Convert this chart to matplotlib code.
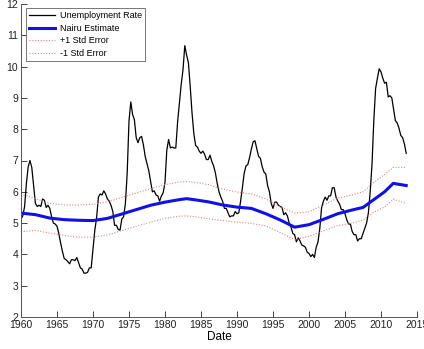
import matplotlib
matplotlib.use("Agg")
import matplotlib.pyplot as plt
import numpy as np

plt.rcParams['font.family'] = ['Liberation Sans', 'DejaVu Sans']

# Quarterly unemployment rate, 1960Q1 .. 2013Q3
unemp = [
    5.13, 5.23, 5.53, 6.27,
    6.80, 7.00, 6.77, 6.20,
    5.63, 5.53, 5.57, 5.53,
    5.77, 5.73, 5.50, 5.57,
    5.47, 5.20, 5.00, 4.97,
    4.90, 4.67, 4.37, 4.10,
    3.87, 3.83, 3.77, 3.70,
    3.83, 3.83, 3.80, 3.90,
    3.73, 3.57, 3.53, 3.40,
    3.40, 3.43, 3.57, 3.57,
    4.17, 4.77, 5.17, 5.83,
    5.93, 5.90, 6.03, 5.93,
    5.77, 5.70, 5.57, 5.37,
    4.93, 4.93, 4.80, 4.77,
    5.13, 5.20, 5.63, 6.60,
    8.27, 8.87, 8.47, 8.30,
    7.73, 7.57, 7.73, 7.77,
    7.50, 7.13, 6.90, 6.67,
    6.33, 6.00, 6.03, 5.90,
    5.87, 5.70, 5.87, 5.97,
    6.30, 7.33, 7.67, 7.40,
    7.43, 7.40, 7.40, 8.23,
    8.83, 9.43, 9.90, 10.67,
    10.37, 10.13, 9.37, 8.53,
    7.87, 7.48, 7.43, 7.30,
    7.23, 7.30, 7.20, 7.03,
    7.03, 7.17, 6.97, 6.83,
    6.60, 6.27, 6.00, 5.83,
    5.70, 5.47, 5.47, 5.33,
    5.20, 5.23, 5.23, 5.37,
    5.30, 5.33, 5.70, 6.13,
    6.60, 6.83, 6.87, 7.10,
    7.37, 7.60, 7.63, 7.37,
    7.13, 7.07, 6.80, 6.63,
    6.57, 6.20, 6.00, 5.63,
    5.47, 5.67, 5.67, 5.57,
    5.53, 5.50, 5.27, 5.33,
    5.23, 5.00, 4.87, 4.67,
    4.63, 4.40, 4.53, 4.43,
    4.30, 4.27, 4.23, 4.07,
    4.03, 3.93, 4.00, 3.90,
    4.23, 4.40, 4.83, 5.50,
    5.70, 5.83, 5.73, 5.87,
    5.87, 6.13, 6.13, 5.83,
    5.70, 5.60, 5.43, 5.43,
    5.30, 5.10, 4.97, 4.97,
    4.73, 4.63, 4.63, 4.43,
    4.50, 4.50, 4.67, 4.83,
    5.00, 5.33, 6.00, 6.87,
    8.27, 9.30, 9.63, 9.93,
    9.83, 9.63, 9.47, 9.50,
    9.03, 9.07, 9.00, 8.63,
    8.27, 8.20, 8.03, 7.80,
    7.73, 7.53, 7.23,
]
unemp_start = 1960.0
unemp_step = 0.25

nairu_years = [1960.0, 1962.0, 1964.0, 1966.0, 1968.0, 1970.0, 1972.0, 1974.0,
               1976.0, 1978.0, 1980.0, 1982.0, 1983.0, 1984.0, 1986.0, 1988.0,
               1990.0, 1992.0, 1994.0, 1996.0, 1998.0, 2000.0, 2002.0, 2004.0,
               2006.0, 2007.5, 2009.0, 2010.5, 2011.7, 2013.5]
nairu = [5.32, 5.27, 5.16, 5.11, 5.09, 5.08, 5.15, 5.29,
         5.43, 5.57, 5.67, 5.75, 5.78, 5.75, 5.68, 5.58,
         5.51, 5.47, 5.30, 5.10, 4.87, 4.95, 5.12, 5.30,
         5.42, 5.50, 5.75, 6.00, 6.27, 6.20]
upper = [5.93, 5.78, 5.63, 5.58, 5.58, 5.60, 5.68, 5.82,
         5.96, 6.10, 6.23, 6.31, 6.33, 6.31, 6.23, 6.09,
         5.99, 5.93, 5.77, 5.52, 5.32, 5.36, 5.58, 5.80,
         5.90, 6.00, 6.30, 6.55, 6.78, 6.78]
lower = [4.72, 4.77, 4.68, 4.61, 4.55, 4.55, 4.62, 4.76,
         4.90, 5.03, 5.15, 5.22, 5.23, 5.21, 5.14, 5.08,
         5.03, 4.99, 4.91, 4.70, 4.47, 4.58, 4.75, 4.92,
         5.00, 5.10, 5.35, 5.52, 5.76, 5.63]

xticks = [1960, 1965, 1970, 1975, 1980, 1985, 1990, 1995, 2000, 2005, 2010, 2015]
yticks = [2, 3, 4, 5, 6, 7, 8, 9, 10, 11, 12]

fig = plt.figure(figsize=(4.24, 3.49), dpi=100)
ax = fig.add_axes([21/424, 32/349, 396/424, 313/349])

uyears = unemp_start + unemp_step * np.arange(len(unemp))
ax.plot(uyears, unemp, color='black', lw=0.9, label='Unemployment Rate')
ax.plot(nairu_years, nairu, color='#1010e8', lw=2.2, label='Nairu Estimate')
ax.plot(nairu_years, upper, color='#e88080', lw=0.8, ls=(0, (1, 1.5)), label='+1 Std Error')
ax.plot(nairu_years, lower, color='#e88080', lw=0.8, ls=(0, (1, 1.5)), label='-1 Std Error')

ax.set_xlim(1960, 2015)
ax.set_ylim(2, 12)
ax.set_xticks(xticks)
ax.set_yticks(yticks)
ax.tick_params(direction='in', length=4, width=0.6, labelsize=7.5, colors='#222222', pad=2)
for s in ['top', 'right']:
    ax.spines[s].set_visible(False)
for s in ['left', 'bottom']:
    ax.spines[s].set_color('#555555')
    ax.spines[s].set_linewidth(0.7)
ax.set_xlabel('Date', fontsize=8.5, labelpad=1)

leg = ax.legend(loc='upper left', bbox_to_anchor=(0.0126, 0.987), fontsize=6.5,
                frameon=True, fancybox=False, handlelength=2.9, handletextpad=0.5,
                borderpad=0.35, labelspacing=0.4, borderaxespad=0)
leg.get_frame().set_edgecolor('#555555')
leg.get_frame().set_linewidth(0.7)

fig.savefig('out.png', dpi=100)
